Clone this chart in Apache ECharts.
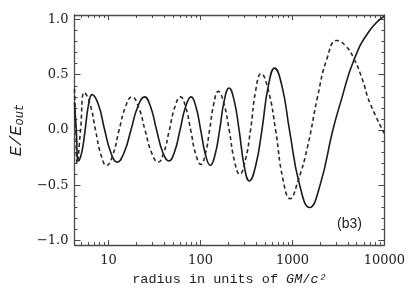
<!DOCTYPE html>
<html><head><meta charset="utf-8">
<script src="https://cdn.jsdelivr.net/npm/echarts@6/dist/echarts.min.js"></script>
<style>html,body{margin:0;padding:0;background:#fff}#c{width:408px;height:291px}</style>
</head><body><div id="c"></div>
<script>
// radius in units of GM/c^2
const solidX = [4.25, 4.45, 4.70, 5.11, 5.55, 6.05, 6.61, 7.74, 9.06, 10.59, 12.39, 14.72, 17.50, 20.75, 24.60, 28.61, 33.27, 38.77, 45.19, 52.00, 59.84, 68.8, 79.07, 89.1, 100.5, 113.4, 127.9, 143.7, 161.4, 181.6, 204.2, 231.7, 263.0, 298.9, 339.6, 397.7, 465.6, 545.8, 639.7, 770.9, 929.0, 1196.7, 1539.9, 1995, 2754, 3342, 4700, 6930, 10000];
const solidY = [0.25, 0.0, -0.28, -0.20, 0.0, 0.23, 0.32, 0.23, 0.0, -0.205, -0.29, -0.205, 0.0, 0.21, 0.30, 0.21, 0.0, -0.20, -0.28, -0.20, 0.0, 0.21, 0.30, 0.21, 0.0, -0.225, -0.32, -0.225, 0.0, 0.27, 0.38, 0.27, 0.0, -0.325, -0.46, -0.325, 0.0, 0.395, 0.56, 0.395, 0.0, -0.495, -0.70, -0.50, 0.0, 0.25, 0.64, 0.90, 1.03];
const dashedX = [4.25, 4.40, 4.55, 4.95, 5.45, 6.26, 7.20, 8.27, 9.50, 11.12, 13.0, 15.26, 17.9, 21.12, 24.9, 29.35, 34.6, 39.81, 45.8, 52.67, 60.5, 68.8, 78.2, 88.8, 101, 112.6, 125.5, 140.0, 156, 178.9, 205, 234.2, 267, 305.9, 350, 399.0, 455, 546.3, 656, 787.0, 945, 1150, 1462, 1866, 2384, 3037, 3802, 4700, 5754, 6930, 10000];
const dashedY = [0.37, 0.0, -0.30, 0.0, 0.34, 0.24, 0.0, -0.225, -0.32, -0.225, 0.0, 0.21, 0.30, 0.21, 0.0, -0.205, -0.29, -0.205, 0.0, 0.21, 0.30, 0.21, 0.0, -0.22, -0.31, -0.22, 0.0, 0.245, 0.35, 0.245, 0.0, -0.28, -0.40, -0.28, 0.0, 0.36, 0.51, 0.36, 0.0, -0.44, -0.62, -0.46, -0.15, 0.29, 0.65, 0.81, 0.76, 0.64, 0.46, 0.25, -0.03];
// ticks
const xLabelValues = [10, 100, 1000, 10000];
const xMajorTicks = [10, 100, 1000];
const xMinorTicks = [5, 6, 7, 8, 9, 20, 30, 40, 50, 60, 70, 80, 90, 200, 300, 400, 500, 600, 700, 800, 900, 2000, 3000, 4000, 5000, 6000, 7000, 8000, 9000];
const yLabelValues = [-1.0, -0.5, 0.0, 0.5, 1.0];
const yMinorTicks = [-0.9, -0.8, -0.7, -0.6, -0.4, -0.3, -0.2, -0.1, 0.1, 0.2, 0.3, 0.4, 0.6, 0.7, 0.8, 0.9];

const AX = '#4a4a4a';
const FONT = 'DejaVu Serif';
const TFONT = 'Liberation Mono';
const xMin = 4.25, xMax = 10000, yMin = -1.04, yMax = 1.04;

function xAxisDef(pos, ticks, len, withLabels, withLine) {
  return {
    type: 'log', logBase: 10, position: pos, min: xMin, max: xMax,
    axisLine: { show: withLine, onZero: false, lineStyle: { color: AX, width: 1.3 } },
    splitLine: { show: false },
    axisTick: { show: true, inside: true, length: len, customValues: ticks, lineStyle: { color: AX, width: 1 } },
    axisLabel: withLabels ? { show: true, customValues: xLabelValues, margin: 9, color: '#222', fontFamily: FONT, fontSize: 13,
      formatter: v => String(Math.round(v)) } : { show: false },
    name: withLabels ? '{n|radius in units of }{i|GM}{n|/}{i|c²}' : '',
    nameLocation: 'middle', nameGap: 25,
    nameTextStyle: { rich: {
      n: { fontFamily: TFONT, fontSize: 13.5, color: '#222' },
      i: { fontFamily: TFONT, fontSize: 13.5, fontStyle: 'italic', color: '#222' }
    } }
  };
}
function yAxisDef(pos, ticks, len, withLabels, withLine) {
  return {
    type: 'value', position: pos, min: yMin, max: yMax,
    axisLine: { show: withLine, onZero: false, lineStyle: { color: AX, width: 1.3 } },
    splitLine: { show: false },
    axisTick: { show: true, inside: true, length: len, customValues: ticks, lineStyle: { color: AX, width: 1 } },
    axisLabel: withLabels ? { show: true, customValues: yLabelValues, margin: 6, color: '#222', fontFamily: FONT, fontSize: 13,
      formatter: v => (Math.abs(v) < 1e-9 ? 0 : v).toFixed(1).replace('-', '\u2212') } : { show: false },
    name: withLabels ? '{i|E/E}{s|out}' : '',
    nameLocation: 'middle', nameGap: 46, nameRotate: 90,
    nameTextStyle: { rich: {
      i: { fontFamily: TFONT, fontSize: 17, fontStyle: 'italic', color: '#222' },
      s: { fontFamily: TFONT, fontSize: 12, fontStyle: 'italic', color: '#222', padding: [7, 0, 0, 0] }
    } }
  };
}

const chart = echarts.init(document.getElementById('c'), null, { renderer: 'canvas' });
chart.setOption({
  animation: false,
  backgroundColor: '#fff',
  grid: { left: 66, right: 23, top: 15, bottom: 44 },
  title: { text: '(b3)', left: 332, top: 212, textStyle: { fontFamily: 'Liberation Sans', fontSize: 14, fontWeight: 'normal', color: '#222' } },
  xAxis: [
    xAxisDef('bottom', xMajorTicks, 5, true, true),
    xAxisDef('bottom', xMinorTicks, 3, false, false),
    xAxisDef('top', xMajorTicks, 5, false, true),
    xAxisDef('top', xMinorTicks, 3, false, false)
  ],
  yAxis: [
    yAxisDef('left', yLabelValues, 6, true, true),
    yAxisDef('left', yMinorTicks, 3, false, false),
    yAxisDef('right', yLabelValues, 6, false, true),
    yAxisDef('right', yMinorTicks, 3, false, false)
  ],
  series: [
    { type: 'line', name: 'solid', xAxisIndex: 0, yAxisIndex: 0, showSymbol: false, smooth: 0.5,
      data: solidX.map((x, i) => [x, solidY[i]]),
      lineStyle: { color: '#1a1a1a', width: 1.6, type: 'solid' } },
    { type: 'line', name: 'dashed', xAxisIndex: 0, yAxisIndex: 0, showSymbol: false, smooth: 0.5,
      data: dashedX.map((x, i) => [x, dashedY[i]]),
      lineStyle: { color: '#2a2a2a', width: 1.6, type: [4, 3] } }
  ]
});
</script></body></html>
